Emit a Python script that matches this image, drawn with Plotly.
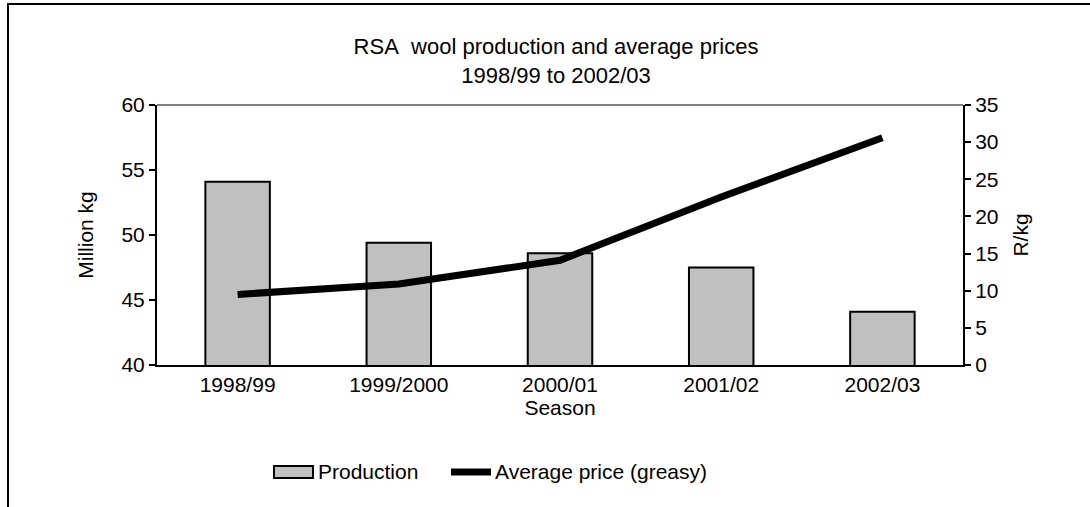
import plotly.graph_objects as go

# Wool seasons and values
seasons = ["1998/99", "1999/2000", "2000/01", "2001/02", "2002/03"]
production_mkg = [54.1, 49.4, 48.6, 47.5, 44.1]      # Million kg
avg_price_rkg = [9.5, 10.9, 14.1, 22.6, 30.6]         # R/kg (greasy)

FONT = "Liberation Sans, Arial, sans-serif"
FS = 21
W, H = 1090, 507
ML, MR, MT, MB = 157, 127, 105, 142
PW, PH = W - ML - MR, H - MT - MB


def px_x(px):
    return (px - ML) / PW


def px_y(py):
    return (H - MB - py) / PH


BAR_FILL = "#c0c0c0"

fig = go.Figure()
fig.add_trace(go.Bar(
    x=seasons, y=production_mkg, name="Production",
    marker=dict(color=BAR_FILL, line=dict(color="black", width=2)),
    yaxis="y",
))
fig.add_trace(go.Scatter(
    x=seasons, y=avg_price_rkg, name="Average price (greasy)",
    mode="lines", line=dict(color="black", width=7),
    yaxis="y2",
))

# Legend drawn below the axes: key swatches plus labels
leg_y = px_y(472)
legend_shapes = [
    dict(type="rect", xref="paper", yref="paper",
         x0=px_x(274), x1=px_x(313), y0=px_y(478), y1=px_y(466),
         fillcolor=BAR_FILL, line=dict(color="black", width=2)),
    dict(type="line", xref="paper", yref="paper",
         x0=px_x(451), x1=px_x(491), y0=leg_y, y1=leg_y,
         line=dict(color="black", width=7)),
]
legend_labels = [
    dict(text="Production", x=px_x(316), y=leg_y),
    dict(text="Average price (greasy)", x=px_x(493), y=leg_y),
]

fig.update_layout(
    width=W, height=H,
    margin=dict(l=ML, r=MR, t=MT, b=MB),
    paper_bgcolor="white", plot_bgcolor="white",
    font=dict(family=FONT, size=FS, color="black"),
    title=dict(
        text="RSA\u00a0 wool production and average prices<br>1998/99 to 2002/03",
        x=px_x(556), xref="paper", xanchor="center",
        y=1 - 54 / H, yref="container", yanchor="middle",
        font=dict(family=FONT, size=22, color="black"),
    ),
    bargap=0.6,
    showlegend=False,
    xaxis=dict(
        showline=True, linecolor="black", linewidth=2,
        ticks="", showgrid=False, zeroline=False,
        title=dict(text="Season", standoff=0, font=dict(size=FS)),
        tickfont=dict(size=FS),
    ),
    yaxis=dict(
        range=[40, 60], dtick=5, showgrid=False, zeroline=False,
        showline=True, linecolor="black", linewidth=2,
        ticks="outside", ticklen=6, tickwidth=2, tickcolor="black",
        tickfont=dict(size=FS),
        title=dict(text="Million kg", standoff=22, font=dict(size=FS)),
    ),
    yaxis2=dict(
        range=[0, 35], dtick=5, overlaying="y", side="right",
        showgrid=False, zeroline=False,
        showline=True, linecolor="black", linewidth=2,
        ticks="outside", ticklen=6, tickwidth=2, tickcolor="black",
        tickfont=dict(size=FS),
        title=dict(text="R/kg", standoff=16, font=dict(size=FS)),
    ),
    shapes=[
        # top edge of plot area
        dict(type="line", xref="paper", yref="paper", x0=0, x1=1, y0=1, y1=1,
             line=dict(color="#808080", width=2)),
        # outer chart frame
        dict(type="rect", xref="paper", yref="paper",
             x0=px_x(8), x1=px_x(1110), y0=px_y(530), y1=px_y(4),
             line=dict(color="black", width=2), layer="below"),
    ] + legend_shapes,
    annotations=[
        dict(text=a["text"], x=a["x"], y=a["y"], xref="paper", yref="paper",
             xanchor="left", yanchor="middle", showarrow=False,
             font=dict(family=FONT, size=FS, color="black"))
        for a in legend_labels
    ],
)

fig.write_html("out.html")
